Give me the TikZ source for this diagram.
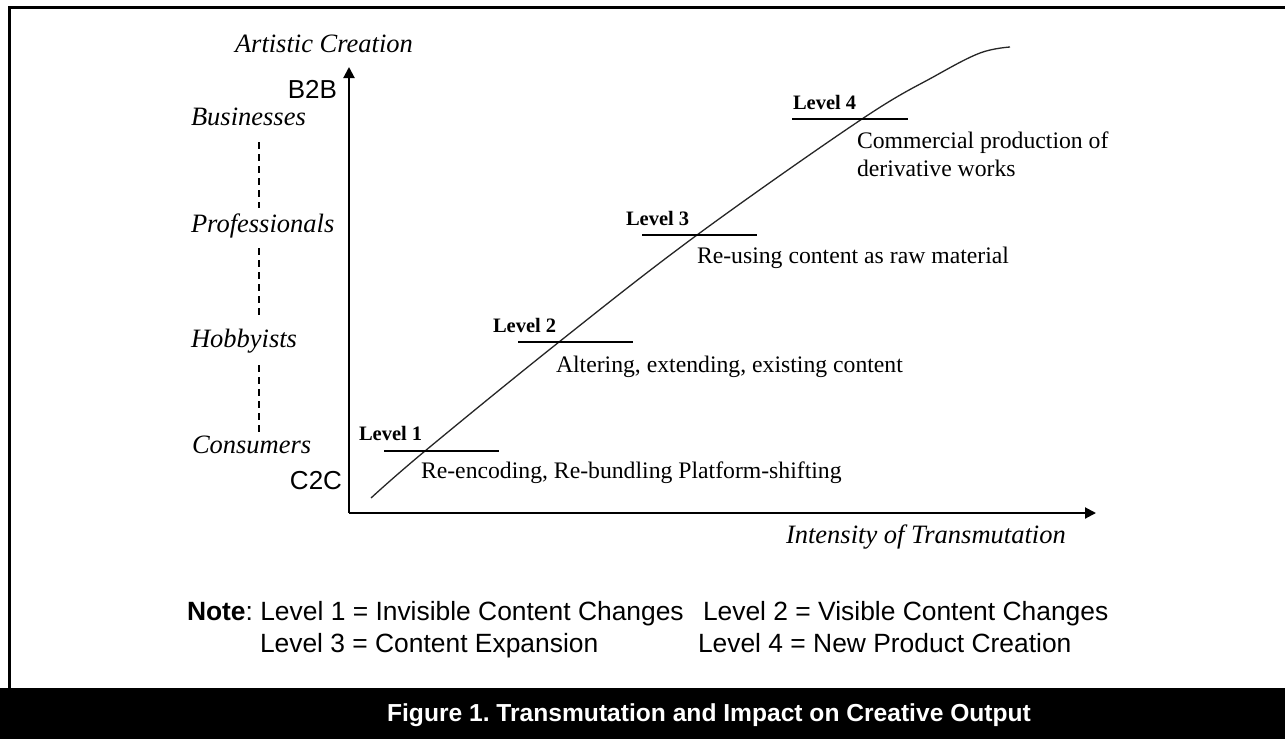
\documentclass[tikz,border=0pt]{standalone}
\usepackage{fontspec}
\setmainfont{Liberation Serif}
\newfontfamily\arialfont{Liberation Sans}
\usetikzlibrary{arrows.meta}
\frenchspacing
\tikzset{
  lbl/.style={inner sep=0pt, outer sep=0pt},
  itlab/.style={lbl, font=\fontsize{26.5}{30}\selectfont\itshape},
  desc/.style={lbl, font=\fontsize{23.7}{28}\selectfont, align=left},
  lvl/.style={lbl, font=\fontsize{20.5}{24}\selectfont\bfseries},
  sans/.style={lbl, font=\fontsize{26}{30}\selectfont\arialfont},
  notetxt/.style={lbl, font=\fontsize{26.4}{30}\selectfont\arialfont},
  axis/.style={line width=2pt, -{Triangle[length=11pt,width=11pt]}},
  lvlline/.style={line width=1.4pt},
  dashline/.style={line width=2pt, dash pattern=on 7pt off 5pt},
  curve/.style={line width=1.3pt, black!85},
  frameline/.style={line width=3pt}
}
\begin{document}
\begin{tikzpicture}[x=1pt,y=-1pt]
\useasboundingbox (0,0) rectangle (1285,739);
\fill[white] (0,0) rectangle (1285,739);
% frame
\draw[frameline] (9.5,688) -- (9.5,7) -- (1290,7);
\fill[black] (0,688) rectangle (1285,739);
\node[lbl, text=white, font=\fontsize{24.6}{30}\selectfont\arialfont\bfseries] (cap) at (709,715) {Figure 1. Transmutation and Impact on Creative Output};
% axes
\coordinate (O) at (349,513);
\coordinate (ytip) at (349,67);
\coordinate (xtip) at (1096,513);
\draw[axis] (O) -- (ytip);
\draw[axis] (O) -- (xtip);
\node[itlab, anchor=base west] (ylab) at (235,52) {Artistic Creation};
\node[itlab, anchor=base west] (xlab) at (786,543) {Intensity of Transmutation};
% left scale
\node[sans, anchor=base east] (b2b) at (337,98) {B2B};
\node[sans, anchor=base east] (c2c) at (342,489) {C2C};
\node[itlab, anchor=base west] (bus) at (191,125) {Businesses};
\node[itlab, anchor=base west] (pro) at (191,232) {Professionals};
\node[itlab, anchor=base west] (hob) at (191,347) {Hobbyists};
\node[itlab, anchor=base west] (con) at (192,453) {Consumers};
\coordinate (d1a) at (259,142); \coordinate (d1b) at (259,208);
\coordinate (d2a) at (259,248); \coordinate (d2b) at (259,316);
\coordinate (d3a) at (259,365); \coordinate (d3b) at (259,432);
\draw[dashline] (d1a) -- (d1b);
\draw[dashline] (d2a) -- (d2b);
\draw[dashline] (d3a) -- (d3b);
% curve
\draw[curve] plot[smooth, tension=0.6] coordinates {(371,498) (425,451) (559,342) (697,235) (862,119) (935,76) (980,53) (1010,47)};
% levels
\node[lvl, anchor=base west] (l1) at (359,440) {Level 1};
\coordinate (l1a) at (384,451); \coordinate (l1b) at (499,451);
\draw[lvlline] (l1a) -- (l1b);
\node[desc, anchor=base west] (d1) at (421,478) {Re-encoding, Re-bundling Platform-shifting};
\node[lvl, anchor=base west] (l2) at (493,332) {Level 2};
\coordinate (l2a) at (518,342); \coordinate (l2b) at (633,342);
\draw[lvlline] (l2a) -- (l2b);
\node[desc, anchor=base west] (d2) at (556,372) {Altering, extending, existing content};
\node[lvl, anchor=base west] (l3) at (626,225) {Level 3};
\coordinate (l3a) at (642,235); \coordinate (l3b) at (757,235);
\draw[lvlline] (l3a) -- (l3b);
\node[desc, anchor=base west] (d3) at (697,263) {Re-using content as raw material};
\node[lvl, anchor=base west] (l4) at (793,109) {Level 4};
\coordinate (l4a) at (792,119); \coordinate (l4b) at (908,119);
\draw[lvlline] (l4a) -- (l4b);
\node[desc, anchor=base west] (d4a) at (857,148) {Commercial production of};
\node[desc, anchor=base west] (d4b) at (857,176) {derivative works};
% note
\node[notetxt, anchor=base west] (n1) at (187,620) {\textbf{Note}: Level 1 = Invisible Content Changes};
\node[notetxt, anchor=base west] (n2) at (703,620) {Level 2 = Visible Content Changes};
\node[notetxt, anchor=base west] (n3) at (260,652) {Level 3 = Content Expansion};
\node[notetxt, anchor=base west] (n4) at (698,652) {Level 4 = New Product Creation};
\end{tikzpicture}
\end{document}
